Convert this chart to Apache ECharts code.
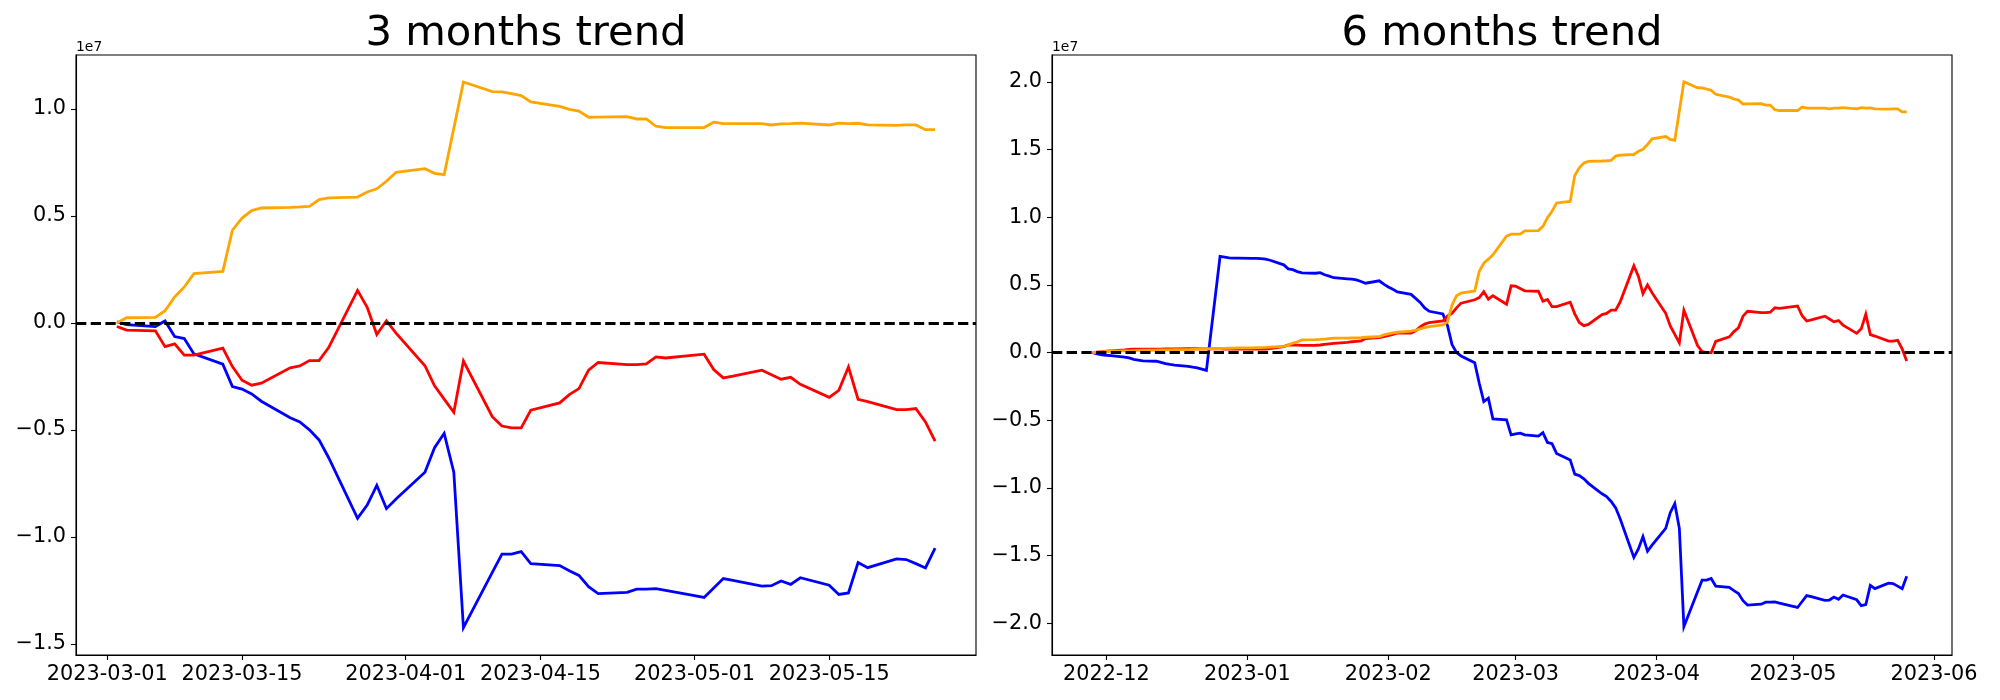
<!DOCTYPE html>
<html><head><meta charset="utf-8">
<script src="https://cdn.jsdelivr.net/npm/echarts@6/dist/echarts.min.js"></script>
<style>html,body{margin:0;padding:0;background:#fff}#c{width:2000px;height:700px}</style>
</head><body><div id="c"></div>
<script>
// ---------- 3 months trend (values in units of 1e7) ----------
const dates3m = ['2023-03-02','2023-03-03','2023-03-06','2023-03-07','2023-03-08','2023-03-09','2023-03-10','2023-03-13','2023-03-14','2023-03-15','2023-03-16','2023-03-17','2023-03-20','2023-03-21','2023-03-22','2023-03-23','2023-03-24','2023-03-27','2023-03-28','2023-03-29','2023-03-30','2023-03-31',
'2023-04-03','2023-04-04','2023-04-05','2023-04-06','2023-04-07','2023-04-10','2023-04-11','2023-04-12','2023-04-13','2023-04-14','2023-04-17','2023-04-18','2023-04-19','2023-04-20','2023-04-21','2023-04-24','2023-04-25','2023-04-26','2023-04-27','2023-04-28',
'2023-05-01','2023-05-02','2023-05-03','2023-05-04','2023-05-05','2023-05-08','2023-05-09','2023-05-10','2023-05-11','2023-05-12','2023-05-15','2023-05-16','2023-05-17','2023-05-18','2023-05-19','2023-05-22','2023-05-23','2023-05-24','2023-05-25','2023-05-26'];
const blue3m = [0.005,-0.008,-0.017,0.009,-0.064,-0.073,-0.145,-0.193,-0.298,-0.309,-0.332,-0.366,-0.443,-0.463,-0.500,-0.547,-0.630,-0.913,-0.851,-0.759,-0.868,-0.823,
-0.698,-0.583,-0.516,-0.698,-1.424,-1.166,-1.081,-1.081,-1.069,-1.125,-1.134,-1.158,-1.180,-1.233,-1.265,-1.259,-1.244,-1.244,-1.242,-1.250,
-1.275,-1.283,-1.239,-1.195,-1.203,-1.230,-1.228,-1.206,-1.222,-1.191,-1.226,-1.269,-1.262,-1.120,-1.144,-1.103,-1.106,-1.125,-1.145,-1.053];
const red3m = [-0.017,-0.034,-0.037,-0.111,-0.098,-0.151,-0.151,-0.118,-0.204,-0.268,-0.291,-0.282,-0.210,-0.201,-0.176,-0.176,-0.115,0.152,0.073,-0.054,0.010,-0.048,
-0.200,-0.294,-0.356,-0.418,-0.178,-0.438,-0.482,-0.491,-0.491,-0.408,-0.374,-0.335,-0.307,-0.221,-0.185,-0.195,-0.195,-0.192,-0.159,-0.164,
-0.151,-0.146,-0.218,-0.257,-0.249,-0.221,-0.242,-0.263,-0.254,-0.287,-0.348,-0.315,-0.206,-0.357,-0.368,-0.405,-0.405,-0.400,-0.463,-0.553];
const orange3m = [0.000,0.024,0.026,0.057,0.121,0.168,0.230,0.241,0.433,0.490,0.525,0.537,0.540,0.542,0.545,0.576,0.584,0.588,0.612,0.627,0.662,0.704,
0.721,0.699,0.693,0.910,1.126,1.081,1.080,1.072,1.062,1.033,1.012,0.998,0.990,0.961,0.962,0.964,0.953,0.953,0.919,0.913,
0.913,0.913,0.938,0.931,0.931,0.931,0.925,0.930,0.931,0.934,0.925,0.934,0.931,0.933,0.925,0.923,0.925,0.925,0.903,0.903];

// ---------- 6 months trend (values in units of 1e7) ----------
const datesEarly6m = ['2022-11-28','2022-11-29','2022-11-30','2022-12-01','2022-12-02',
'2022-12-05','2022-12-06','2022-12-07','2022-12-08','2022-12-09','2022-12-12','2022-12-13','2022-12-14','2022-12-15','2022-12-16',
'2022-12-19','2022-12-20','2022-12-21','2022-12-22','2022-12-23','2022-12-26','2022-12-27','2022-12-28','2022-12-29','2022-12-30',
'2023-01-02','2023-01-03','2023-01-04','2023-01-05','2023-01-06','2023-01-09','2023-01-10','2023-01-11','2023-01-12','2023-01-13',
'2023-01-16','2023-01-17','2023-01-18','2023-01-19','2023-01-20','2023-01-23','2023-01-24','2023-01-25','2023-01-26','2023-01-27',
'2023-01-30','2023-01-31','2023-02-01','2023-02-02','2023-02-03','2023-02-06','2023-02-07','2023-02-08','2023-02-09','2023-02-10',
'2023-02-13','2023-02-14','2023-02-15','2023-02-16','2023-02-17','2023-02-20','2023-02-21','2023-02-22','2023-02-23','2023-02-24',
'2023-02-27','2023-02-28','2023-03-01'];
const blueEarly6m = [0.000,-0.010,-0.017,-0.020,-0.022,
-0.033,-0.040,-0.050,-0.055,-0.062,-0.064,-0.072,-0.082,-0.088,-0.093,
-0.102,-0.108,-0.113,-0.122,-0.132,0.710,0.705,0.700,0.698,0.697,
0.695,0.695,0.694,0.690,0.682,0.648,0.618,0.612,0.598,0.588,
0.586,0.590,0.575,0.565,0.553,0.545,0.542,0.537,0.525,0.512,
0.530,0.505,0.485,0.468,0.448,0.430,0.400,0.370,0.330,0.305,
0.285,0.200,0.060,0.000,-0.025,-0.075,-0.227,-0.362,-0.337,-0.490,
-0.497,-0.608,-0.600];
const redEarly6m = [0.000,0.003,0.006,0.010,0.012,
0.020,0.024,0.025,0.025,0.025,0.026,0.026,0.027,0.027,0.027,
0.028,0.028,0.028,0.027,0.027,0.027,0.026,0.026,0.027,0.026,
0.026,0.025,0.025,0.026,0.030,0.044,0.056,0.056,0.055,0.053,
0.054,0.056,0.060,0.064,0.068,0.076,0.080,0.083,0.086,0.104,
0.111,0.118,0.125,0.135,0.143,0.143,0.160,0.190,0.210,0.222,
0.234,0.270,0.290,0.330,0.365,0.390,0.406,0.450,0.394,0.420,
0.357,0.493,0.490];
const orangeEarly6m = [0.000,0.003,0.005,0.008,0.010,
0.012,0.013,0.015,0.016,0.017,0.018,0.019,0.020,0.020,0.021,
0.022,0.024,0.025,0.026,0.027,0.030,0.031,0.032,0.033,0.034,
0.035,0.036,0.037,0.038,0.040,0.045,0.055,0.070,0.080,0.093,
0.095,0.097,0.100,0.103,0.106,0.107,0.108,0.109,0.110,0.113,
0.117,0.130,0.138,0.145,0.150,0.158,0.165,0.175,0.185,0.192,
0.205,0.225,0.350,0.420,0.440,0.455,0.600,0.660,0.690,0.722,
0.860,0.875,0.875];
const blueLate6m = [-0.595,-0.608,-0.617,-0.591,-0.664,-0.673,-0.745,-0.793,-0.898,-0.909,-0.932,-0.966,-1.043,-1.063,-1.100,-1.147,-1.230,-1.513,-1.451,-1.359,-1.468,-1.423,
-1.298,-1.183,-1.116,-1.298,-2.024,-1.766,-1.681,-1.681,-1.669,-1.725,-1.734,-1.758,-1.780,-1.833,-1.865,-1.859,-1.844,-1.844,-1.842,-1.850,
-1.875,-1.883,-1.839,-1.795,-1.803,-1.830,-1.828,-1.806,-1.822,-1.791,-1.826,-1.869,-1.862,-1.720,-1.744,-1.703,-1.706,-1.725,-1.745,-1.653];
const redLate6m = [0.473,0.456,0.453,0.379,0.392,0.339,0.339,0.372,0.286,0.222,0.199,0.208,0.280,0.289,0.314,0.314,0.375,0.642,0.563,0.436,0.500,0.442,
0.290,0.196,0.134,0.072,0.312,0.052,0.008,-0.001,-0.001,0.082,0.116,0.155,0.183,0.269,0.305,0.295,0.295,0.298,0.331,0.326,
0.339,0.344,0.272,0.233,0.241,0.269,0.248,0.227,0.236,0.203,0.142,0.175,0.284,0.133,0.122,0.085,0.085,0.090,0.027,-0.063];
const orangeLate6m = [0.875,0.899,0.901,0.932,0.996,1.043,1.105,1.116,1.308,1.365,1.400,1.412,1.415,1.417,1.420,1.451,1.459,1.463,1.487,1.502,1.537,1.579,
1.596,1.574,1.568,1.785,2.001,1.956,1.955,1.947,1.937,1.908,1.887,1.873,1.865,1.836,1.837,1.839,1.828,1.828,1.794,1.788,
1.788,1.788,1.813,1.806,1.806,1.806,1.800,1.805,1.806,1.809,1.800,1.809,1.806,1.808,1.800,1.798,1.800,1.800,1.778,1.778];
const dates6m = datesEarly6m.concat(dates3m);
const blue6m = blueEarly6m.concat(blueLate6m);
const red6m = redEarly6m.concat(redLate6m);
const orange6m = orangeEarly6m.concat(orangeLate6m);

// ---------- tick labels ----------
const xTicks3m = ['2023-03-01','2023-03-15','2023-04-01','2023-04-15','2023-05-01','2023-05-15'];
const xTicks6m = ['2022-12-01','2023-01-01','2023-02-01','2023-03-01','2023-04-01','2023-05-01','2023-06-01'];
const yTicks3m = [-1.5,-1.0,-0.5,0,0.5,1.0];
const yTicks6m = [-2.0,-1.5,-1.0,-0.5,0,0.5,1.0,1.5,2.0];
const titles = ['3 months trend','6 months trend'];
const offsetText = '1e7';

const ts = s => new Date(s + 'T00:00:00').getTime();
const FONT = 'DejaVu Sans';
const pad2 = n => (n < 10 ? '0' : '') + n;
const fmtDay = v => { const d = new Date(v); return d.getFullYear() + '-' + pad2(d.getMonth()+1) + '-' + pad2(d.getDate()); };
const fmtMonth = v => { const d = new Date(v); return d.getFullYear() + '-' + pad2(d.getMonth()+1); };
const fmtY = v => (v < 0 ? '\u2212' : '') + Math.abs(v).toFixed(1);

const grids = [
  {left: 76, top: 55, width: 900, height: 600},
  {left: 1052, top: 55, width: 900, height: 600}
];

function xAxis(gi, min, max, ticks, fmt) {
  const cv = ticks.map(ts);
  return {
    type: 'value', gridIndex: gi, min: min, max: max, scale: true,
    axisLine: {show: true, onZero: false, lineStyle: {color: '#000', width: 1.1}},
    axisTick: {show: true, inside: false, length: 5, customValues: cv, lineStyle: {color: '#000', width: 1.1}},
    axisLabel: {show: true, customValues: cv, formatter: fmt, color: '#000', fontSize: 20.8, fontFamily: FONT, margin: 9, hideOverlap: false, showMinLabel: true, showMaxLabel: true},
    splitLine: {show: false}, splitArea: {show: false}, minorTick: {show: false}
  };
}
function yAxis(gi, min, max, ticks) {
  return {
    type: 'value', gridIndex: gi, min: min, max: max,
    axisLine: {show: true, onZero: false, lineStyle: {color: '#000', width: 1.1}},
    axisTick: {show: true, inside: false, length: 5, customValues: ticks, lineStyle: {color: '#000', width: 1.1}},
    axisLabel: {show: true, customValues: ticks, formatter: fmtY, color: '#000', fontSize: 20.8, fontFamily: FONT, margin: 10, hideOverlap: false, showMinLabel: true, showMaxLabel: true},
    splitLine: {show: false}
  };
}
function line(xi, dates, vals, color, z, withZero) {
  const s = {
    type: 'line', xAxisIndex: xi, yAxisIndex: xi, z: z,
    data: dates.map((d, i) => [ts(d), vals[i]]),
    showSymbol: false, symbol: 'none', smooth: false,
    lineStyle: {color: color, width: 2.8, cap: 'butt', join: 'miter'},
    itemStyle: {color: color}, emphasis: {disabled: true}, silent: true, animation: false
  };
  if (withZero) {
    s.markLine = {
      silent: true, symbol: ['none', 'none'], label: {show: false}, animation: false,
      lineStyle: {color: '#000', type: [10.3, 4.4], width: 2.8},
      emphasis: {disabled: true},
      data: [{yAxis: 0}]
    };
  }
  return s;
}

const chart = echarts.init(document.getElementById('c'), null, {renderer: 'canvas', width: 2000, height: 700});
chart.setOption({
  backgroundColor: '#fff',
  animation: false,
  grid: grids.map(g => Object.assign({show: true, borderColor: '#000', borderWidth: 1.1, backgroundColor: 'transparent', containLabel: false}, g)),
  xAxis: [
    xAxis(0, ts('2023-02-25') + 18 * 3600e3, ts('2023-05-30') + 6 * 3600e3, xTicks3m, fmtDay),
    xAxis(1, ts('2022-11-19') + 1 * 3600e3, ts('2023-06-04') + 23 * 3600e3, xTicks6m, fmtMonth)
  ],
  yAxis: [
    yAxis(0, -1.552, 1.252, yTicks3m),
    yAxis(1, -2.234, 2.198, yTicks6m)
  ],
  series: [
    line(0, dates3m, blue3m, '#0000ff', 2, false),
    line(0, dates3m, red3m, '#ff0000', 3, false),
    line(0, dates3m, orange3m, '#ffa500', 4, true),
    line(1, dates6m, blue6m, '#0000ff', 2, false),
    line(1, dates6m, red6m, '#ff0000', 3, false),
    line(1, dates6m, orange6m, '#ffa500', 4, true)
  ],
  graphic: [
    {type: 'text', x: 526, y: 13, silent: true, style: {text: titles[0], font: '41.7px "DejaVu Sans"', fill: '#000', textAlign: 'center', textVerticalAlign: 'top'}},
    {type: 'text', x: 1502, y: 13, silent: true, style: {text: titles[1], font: '41.7px "DejaVu Sans"', fill: '#000', textAlign: 'center', textVerticalAlign: 'top'}},
    {type: 'text', x: 76, y: 40, silent: true, style: {text: offsetText, font: '13.9px "DejaVu Sans"', fill: '#000', textAlign: 'left', textVerticalAlign: 'top'}},
    {type: 'text', x: 1052, y: 40, silent: true, style: {text: offsetText, font: '13.9px "DejaVu Sans"', fill: '#000', textAlign: 'left', textVerticalAlign: 'top'}}
  ]
});
</script>
</body></html>
